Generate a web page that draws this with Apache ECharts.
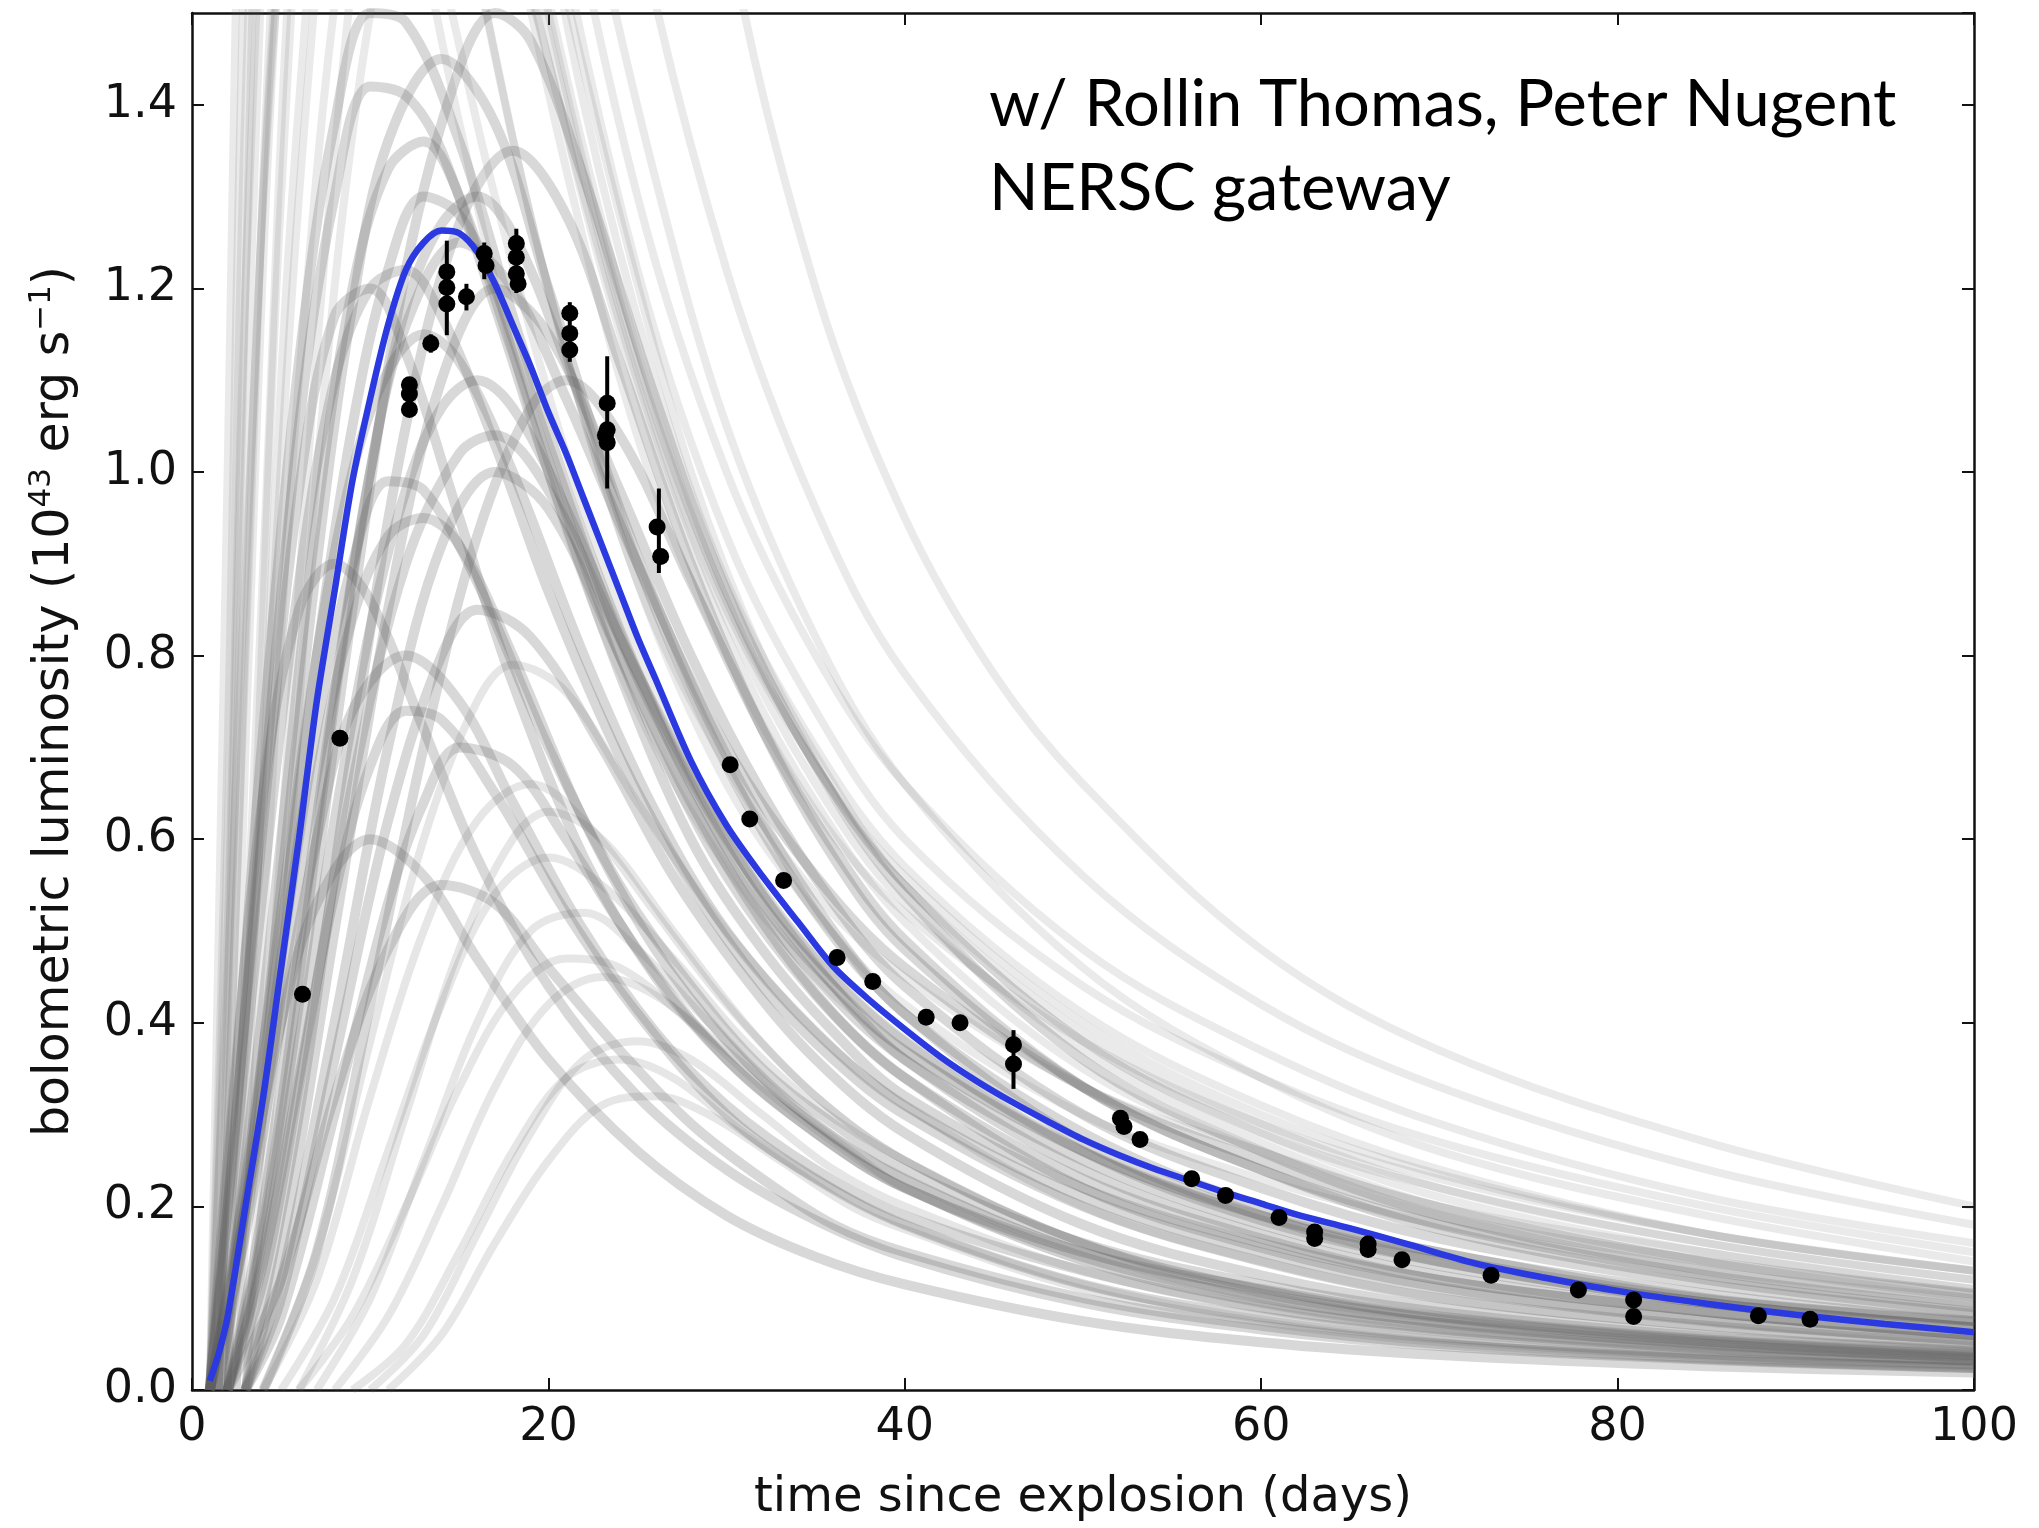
<!DOCTYPE html>
<html><head><meta charset="utf-8">
<script src="https://cdn.jsdelivr.net/npm/echarts@6/dist/echarts.min.js"></script>
<style>html,body{margin:0;padding:0;background:#fff}#c{width:2039px;height:1528px}</style>
</head><body><div id="c"></div>
<script>
// ---- best-fit model curve (blue) ----
const BLUE_X = [1,1.5,2,3,4,5,6,7,8,9,10,11,12,13,14,15,16,17,18,19,20,21,22,23,24,25,26,28,30,32,34,36,38,40,42,44,46,48,50,52,54,56,58,60,62,65,68,72,76,80,85,90,95,100];
const BLUE_Y = [0.01,0.04,0.08,0.2,0.32,0.46,0.6,0.75,0.87,0.99,1.08,1.16,1.22,1.25,1.263,1.26,1.24,1.205,1.16,1.115,1.065,1.02,0.97,0.92,0.87,0.82,0.775,0.685,0.615,0.56,0.51,0.461,0.425,0.393,0.363,0.337,0.314,0.293,0.273,0.256,0.241,0.228,0.215,0.203,0.191,0.176,0.16,0.138,0.122,0.108,0.094,0.082,0.072,0.063];

// ---- observed bolometric luminosities ----
const OBS_X = [6.2,8.3,12.2,12.2,12.2,13.4,14.3,14.3,14.3,15.4,16.4,16.5,18.2,18.2,18.2,18.3,21.2,21.2,21.2,23.3,23.3,23.3,23.2,26.1,26.3,30.2,31.3,33.2,36.2,38.2,41.2,43.1,46.1,46.1,52.1,52.3,53.2,56.1,58.0,61.0,63.0,63.0,66.0,66.0,67.9,72.9,77.8,80.9,80.9,87.9,90.8];
const OBS_Y = [0.431,0.71,1.068,1.085,1.095,1.14,1.183,1.201,1.218,1.191,1.238,1.225,1.249,1.234,1.216,1.205,1.173,1.151,1.133,1.075,1.046,1.032,1.04,0.94,0.908,0.681,0.622,0.555,0.471,0.445,0.406,0.4,0.376,0.355,0.296,0.287,0.273,0.23,0.212,0.188,0.172,0.165,0.159,0.153,0.142,0.125,0.109,0.098,0.08,0.081,0.077];

// ---- visible error bars ----
const ERR_X  = [12.2,13.4,14.3,15.4,16.4,18.2,21.2,23.3,26.2,46.1];
const ERR_LO = [1.06,1.13,1.149,1.176,1.21,1.195,1.12,0.982,0.89,0.328];
const ERR_HI = [1.10,1.15,1.252,1.205,1.25,1.265,1.185,1.126,0.982,0.392];

const GRAY_HIGH = [
 [[1.5,0],[3,1.2],[5,2.6],[8,3.8],[12,4.0],[16,3.6],[20,3.0],[25,2.3],[30,1.6],[35,1.2],[40,0.95],[45,0.78],[50,0.66],[60,0.48],[70,0.37],[85,0.27],[100,0.2]],
 [[1,0],[2,0.7],[3,1.6],[5,2.6],[8,3.0],[12,2.7],[16,2.2],[20,1.75],[25,1.3],[30,1.0],[35,0.8],[40,0.66],[50,0.48],[60,0.37],[70,0.29],[85,0.21],[100,0.16]],
 [[1.5,0],[3,0.8],[5,1.7],[8,2.3],[11,2.4],[14,2.2],[18,1.8],[22,1.4],[26,1.1],[30,0.88],[35,0.7],[40,0.57],[50,0.41],[60,0.31],[70,0.24],[85,0.17],[100,0.13]],
 [[2,0],[4,0.9],[6,1.7],[9,2.2],[12,2.2],[15,1.95],[18,1.6],[22,1.25],[26,0.98],[30,0.8],[35,0.63],[40,0.52],[50,0.38],[60,0.29],[70,0.23],[85,0.17],[100,0.13]],
 [[1,0],[2,0.5],[3,1.2],[5,2.0],[7,2.3],[10,2.2],[13,1.9],[16,1.55],[20,1.2],[25,0.88],[30,0.68],[35,0.54],[40,0.45],[50,0.33],[60,0.26],[70,0.2],[85,0.15],[100,0.11]],
 [[3,0],[5,0.6],[8,1.35],[11,1.8],[14,1.95],[17,1.85],[20,1.6],[24,1.28],[28,1.0],[32,0.8],[36,0.66],[40,0.55],[50,0.38],[60,0.28],[70,0.22],[85,0.16],[100,0.12]],
 [[2,0],[3.5,0.6],[5,1.3],[7,1.8],[10,2.0],[13,1.85],[16,1.55],[20,1.2],[25,0.88],[30,0.66],[35,0.52],[40,0.42],[50,0.3],[60,0.23],[70,0.18],[85,0.13],[100,0.1]],
 [[1.5,0],[2.5,0.7],[4,1.6],[6,2.4],[9,2.8],[12,2.6],[16,2.1],[20,1.65],[25,1.22],[30,0.93],[35,0.74],[40,0.6],[50,0.44],[60,0.34],[70,0.27],[85,0.2],[100,0.15]],
 [[1,0],[2,1.0],[3,2.0],[5,3.2],[8,3.6],[12,3.3],[16,2.7],[20,2.15],[25,1.6],[30,1.22],[35,0.96],[40,0.78],[50,0.56],[60,0.42],[70,0.33],[85,0.24],[100,0.18]],
 [[2.5,0],[4,0.7],[6,1.4],[9,1.95],[12,2.05],[15,1.9],[18,1.65],[22,1.32],[26,1.05],[30,0.85],[35,0.68],[40,0.56],[50,0.4],[60,0.3],[70,0.235],[85,0.17],[100,0.13]],
 [[1,0],[2,0.45],[3.5,1.1],[5,1.6],[7,1.85],[9,1.85],[12,1.65],[15,1.38],[18,1.13],[22,0.88],[26,0.7],[30,0.57],[35,0.45],[40,0.37],[50,0.26],[60,0.19],[70,0.145],[85,0.1],[100,0.075]],
 [[2,0],[3.5,0.5],[6,1.3],[9,1.9],[12,2.2],[15,2.2],[18,2.0],[22,1.65],[26,1.32],[30,1.05],[35,0.82],[40,0.66],[50,0.46],[60,0.34],[70,0.26],[85,0.19],[100,0.14]],
 [[1.5,0],[2.5,0.55],[4,1.3],[6,1.75],[8,1.9],[11,1.8],[14,1.55],[17,1.3],[21,1.02],[25,0.8],[30,0.6],[35,0.47],[40,0.38],[50,0.26],[60,0.19],[70,0.145],[85,0.1],[100,0.075]],
 [[3,0],[5,0.45],[7,1.0],[10,1.5],[13,1.72],[16,1.7],[19,1.52],[23,1.22],[27,0.97],[31,0.78],[35,0.64],[40,0.51],[50,0.35],[60,0.26],[70,0.2],[85,0.14],[100,0.105]],
 [[2,0],[3,0.7],[5,1.6],[8,2.2],[11,2.3],[14,2.1],[18,1.7],[22,1.35],[26,1.07],[30,0.86],[35,0.68],[40,0.55],[50,0.38],[60,0.28],[70,0.21],[85,0.15],[100,0.11]],
 [[1,0],[2,0.6],[3,1.4],[5,2.3],[8,2.6],[12,2.35],[16,1.9],[20,1.5],[25,1.12],[30,0.86],[35,0.68],[40,0.55],[50,0.39],[60,0.29],[70,0.22],[85,0.16],[100,0.12]],
 [[2.5,0],[4,0.5],[6,1.1],[9,1.65],[12,1.85],[15,1.8],[18,1.6],[22,1.3],[26,1.04],[30,0.84],[35,0.66],[40,0.53],[50,0.37],[60,0.27],[70,0.2],[85,0.14],[100,0.1]]
];
const GRAY_MAIN = [
 [[1,0],[3,0.22],[5,0.5],[7,0.8],[9,1.05],[11,1.22],[13,1.3],[15,1.28],[17,1.2],[20,1.03],[24,0.82],[28,0.66],[32,0.53],[36,0.44],[40,0.37],[50,0.26],[60,0.19],[70,0.15],[85,0.1],[100,0.075]],
 [[1,0],[2.5,0.3],[4,0.65],[6,1.05],[8,1.3],[10,1.42],[12,1.41],[14,1.35],[17,1.18],[20,1.0],[24,0.78],[28,0.6],[32,0.48],[36,0.39],[40,0.32],[50,0.22],[60,0.16],[70,0.12],[85,0.085],[100,0.06]],
 [[2,0],[4,0.15],[6,0.38],[8,0.62],[10,0.83],[12,0.98],[14,1.07],[16,1.1],[18,1.07],[21,0.96],[25,0.78],[30,0.58],[35,0.45],[40,0.36],[50,0.25],[60,0.18],[70,0.135],[85,0.095],[100,0.068]],
 [[1.5,0],[3,0.18],[5,0.43],[7,0.67],[9,0.84],[11,0.93],[13,0.95],[15,0.92],[18,0.8],[22,0.62],[26,0.48],[30,0.38],[35,0.29],[40,0.23],[50,0.15],[60,0.105],[70,0.078],[85,0.053],[100,0.038]],
 [[3,0],[6,0.3],[9,0.7],[12,1.05],[15,1.27],[18,1.35],[21,1.28],[24,1.12],[28,0.9],[32,0.72],[36,0.58],[40,0.48],[50,0.33],[60,0.24],[70,0.18],[85,0.125],[100,0.09]],
 [[1,0],[2,0.2],[4,0.62],[6,0.98],[8,1.17],[10,1.2],[12,1.13],[15,0.95],[18,0.77],[22,0.58],[26,0.45],[30,0.36],[35,0.28],[40,0.22],[50,0.15],[60,0.11],[70,0.08],[85,0.055],[100,0.04]],
 [[3,0],[5,0.12],[8,0.4],[11,0.7],[14,0.92],[17,1.0],[20,0.96],[24,0.8],[28,0.64],[32,0.51],[36,0.41],[40,0.34],[50,0.23],[60,0.165],[70,0.12],[85,0.085],[100,0.06]],
 [[1,0],[3,0.17],[5,0.4],[7,0.6],[9,0.74],[12,0.8],[15,0.75],[18,0.64],[22,0.5],[26,0.39],[30,0.31],[35,0.24],[40,0.19],[50,0.13],[60,0.09],[70,0.066],[85,0.045],[100,0.032]],
 [[2,0],[4,0.2],[6,0.48],[8,0.76],[10,1.0],[12,1.16],[15,1.25],[18,1.2],[21,1.08],[25,0.9],[30,0.7],[35,0.56],[40,0.46],[50,0.33],[60,0.25],[70,0.19],[85,0.14],[100,0.105]],
 [[3,0],[5,0.08],[8,0.3],[11,0.53],[13,0.64],[15,0.7],[18,0.68],[21,0.6],[25,0.48],[30,0.36],[35,0.28],[40,0.22],[50,0.145],[60,0.1],[70,0.073],[85,0.05],[100,0.035]],
 [[1.5,0],[3,0.2],[5,0.55],[7,0.9],[9,1.18],[11,1.36],[14,1.45],[17,1.38],[20,1.2],[24,0.96],[28,0.77],[32,0.62],[36,0.5],[40,0.41],[50,0.28],[60,0.2],[70,0.15],[85,0.105],[100,0.075]],
 [[1,0],[3,0.2],[5,0.4],[7,0.53],[10,0.6],[13,0.56],[16,0.47],[20,0.36],[25,0.26],[30,0.19],[35,0.145],[40,0.115],[50,0.075],[60,0.052],[70,0.038],[85,0.026],[100,0.019]],
 [[4,0],[7,0.15],[10,0.42],[13,0.7],[16,0.93],[19,1.07],[21,1.1],[24,1.04],[28,0.88],[32,0.72],[36,0.59],[40,0.49],[50,0.33],[60,0.24],[70,0.175],[85,0.12],[100,0.085]],
 [[1,0],[2,0.25],[4,0.65],[6,0.85],[8,0.9],[10,0.86],[13,0.72],[16,0.58],[20,0.44],[25,0.32],[30,0.24],[35,0.185],[40,0.145],[50,0.095],[60,0.066],[70,0.048],[85,0.033],[100,0.024]],
 [[1,0],[3,0.2],[5,0.47],[7,0.72],[9,0.9],[11,0.99],[13,0.98],[16,0.88],[20,0.7],[24,0.55],[28,0.44],[32,0.35],[36,0.29],[40,0.24],[50,0.16],[60,0.115],[70,0.085],[85,0.058],[100,0.042]],
 [[2,0],[4,0.18],[6,0.45],[8,0.75],[10,1.0],[12,1.18],[14,1.27],[16,1.3],[18,1.26],[21,1.12],[25,0.9],[30,0.68],[35,0.52],[40,0.41],[50,0.27],[60,0.19],[70,0.14],[85,0.095],[100,0.068]],
 [[3,0],[5,0.1],[8,0.36],[11,0.62],[14,0.8],[16,0.85],[19,0.82],[23,0.7],[27,0.56],[31,0.45],[35,0.36],[40,0.28],[50,0.18],[60,0.125],[70,0.09],[85,0.06],[100,0.043]],
 [[1,0],[3,0.23],[5,0.52],[7,0.8],[9,1.0],[11,1.11],[13,1.15],[15,1.12],[18,1.0],[22,0.8],[26,0.63],[30,0.5],[35,0.39],[40,0.31],[50,0.21],[60,0.15],[70,0.11],[85,0.075],[100,0.054]],
 [[2,0],[5,0.12],[8,0.32],[11,0.48],[14,0.55],[17,0.53],[20,0.46],[24,0.37],[28,0.29],[32,0.23],[36,0.18],[40,0.15],[50,0.1],[60,0.07],[70,0.05],[85,0.034],[100,0.024]],
 [[2,0],[4,0.17],[6,0.42],[9,0.85],[12,1.22],[15,1.44],[17,1.5],[19,1.47],[22,1.32],[26,1.08],[30,0.87],[35,0.68],[40,0.54],[50,0.36],[60,0.26],[70,0.19],[85,0.13],[100,0.095]],
 [[1,0],[2,0.18],[4,0.55],[6,0.88],[8,1.1],[10,1.2],[12,1.22],[14,1.17],[17,1.03],[20,0.87],[24,0.69],[28,0.55],[32,0.44],[36,0.36],[40,0.3],[50,0.2],[60,0.14],[70,0.1],[85,0.07],[100,0.05]],
 [[2,0],[4,0.12],[6,0.33],[9,0.66],[12,0.9],[15,1.02],[17,1.04],[20,0.98],[24,0.82],[28,0.67],[32,0.54],[36,0.44],[40,0.36],[50,0.24],[60,0.17],[70,0.125],[85,0.085],[100,0.06]],
 [[1.5,0],[3,0.25],[5,0.6],[7,0.95],[9,1.2],[11,1.33],[13,1.36],[15,1.3],[18,1.13],[22,0.9],[26,0.71],[30,0.56],[35,0.43],[40,0.34],[50,0.22],[60,0.155],[70,0.112],[85,0.076],[100,0.054]],
 [[2,0],[4,0.14],[6,0.34],[8,0.54],[10,0.68],[12,0.74],[14,0.73],[17,0.65],[21,0.52],[25,0.41],[30,0.3],[35,0.23],[40,0.18],[50,0.115],[60,0.08],[70,0.058],[85,0.039],[100,0.028]],
 [[3,0],[5,0.15],[8,0.5],[11,0.85],[14,1.1],[17,1.2],[20,1.15],[24,0.98],[28,0.8],[32,0.65],[36,0.53],[40,0.44],[50,0.3],[60,0.22],[70,0.165],[85,0.115],[100,0.083]],
 [[1,0],[2.5,0.35],[4,0.72],[6,1.12],[8,1.38],[10,1.5],[12,1.49],[15,1.36],[18,1.17],[22,0.93],[26,0.74],[30,0.6],[35,0.47],[40,0.38],[50,0.26],[60,0.185],[70,0.14],[85,0.095],[100,0.068]]
];
const GRAY_LATE = [
 [[6,0],[9,0.08],[12,0.2],[15,0.33],[18,0.43],[21,0.47],[24,0.46],[28,0.4],[32,0.33],[36,0.27],[40,0.22],[50,0.14],[60,0.095],[70,0.068],[85,0.045],[100,0.032]],
 [[8,0],[11,0.08],[14,0.2],[17,0.33],[20,0.42],[23,0.45],[26,0.43],[30,0.37],[35,0.29],[40,0.23],[50,0.15],[60,0.1],[70,0.072],[85,0.048],[100,0.034]],
 [[10,0],[13,0.06],[16,0.17],[19,0.28],[22,0.36],[25,0.38],[28,0.36],[32,0.3],[36,0.24],[40,0.2],[50,0.13],[60,0.088],[70,0.063],[85,0.042],[100,0.03]],
 [[5,0],[8,0.1],[11,0.26],[14,0.42],[17,0.54],[20,0.58],[23,0.55],[27,0.47],[31,0.38],[35,0.31],[40,0.25],[50,0.16],[60,0.11],[70,0.08],[85,0.055],[100,0.04]],
 [[7,0],[10,0.1],[13,0.25],[16,0.4],[19,0.5],[22,0.52],[25,0.48],[29,0.4],[33,0.32],[37,0.26],[40,0.22],[50,0.14],[60,0.094],[70,0.066],[85,0.044],[100,0.031]],
 [[4,0],[7,0.12],[10,0.32],[13,0.5],[16,0.62],[19,0.66],[22,0.62],[26,0.52],[30,0.42],[35,0.32],[40,0.25],[50,0.16],[60,0.11],[70,0.078],[85,0.052],[100,0.037]],
 [[9,0],[12,0.05],[15,0.15],[18,0.26],[21,0.34],[24,0.36],[27,0.34],[31,0.28],[35,0.23],[40,0.18],[50,0.115],[60,0.077],[70,0.055],[85,0.036],[100,0.026]],
 [[4,0],[7,0.15],[10,0.38],[13,0.6],[16,0.75],[18,0.79],[21,0.76],[25,0.64],[30,0.5],[35,0.39],[40,0.31],[50,0.2],[60,0.14],[70,0.1],[85,0.068],[100,0.048]],
 [[6,0],[9,0.12],[12,0.3],[15,0.48],[18,0.6],[20,0.63],[23,0.6],[27,0.5],[31,0.4],[35,0.32],[40,0.25],[50,0.16],[60,0.105],[70,0.074],[85,0.049],[100,0.035]],
 [[11,0],[14,0.06],[17,0.16],[20,0.25],[23,0.31],[26,0.32],[29,0.3],[33,0.25],[37,0.2],[40,0.175],[50,0.11],[60,0.074],[70,0.052],[85,0.034],[100,0.024]]
];

const FONT = 'DejaVu Sans';
const chart = echarts.init(document.getElementById('c'), null, {renderer: 'canvas'});

function grayLine(pts, alpha, width) {
  return {type: 'line', data: pts, smooth: 0.35, symbol: 'none', silent: true,
    animation: false, clip: true, z: 1,
    lineStyle: {color: 'rgba(90,90,90,' + alpha + ')', width: width}};
}
const series = [];
GRAY_HIGH.forEach(c => series.push(grayLine(c, 0.13, 8)));
GRAY_LATE.forEach(c => series.push(grayLine(c, 0.15, 8)));
GRAY_MAIN.forEach(c => series.push(grayLine(c, 0.24, 10)));
series.push({type: 'line', data: BLUE_X.map((x, i) => [x, BLUE_Y[i]]), smooth: 0.3,
  symbol: 'none', silent: true, animation: false, clip: true, z: 3,
  lineStyle: {color: '#2b3ae0', width: 6.5}});
series.push({type: 'custom', silent: true, animation: false, z: 4,
  data: ERR_X.map((x, i) => [x, ERR_LO[i], ERR_HI[i]]),
  renderItem: function (params, api) {
    const a = api.coord([api.value(0), api.value(1)]);
    const b = api.coord([api.value(0), api.value(2)]);
    return {type: 'line', shape: {x1: a[0], y1: a[1], x2: b[0], y2: b[1]},
      style: {stroke: '#000', lineWidth: 4}};
  }});
series.push({type: 'scatter', data: OBS_X.map((x, i) => [x, OBS_Y[i]]),
  symbol: 'circle', symbolSize: 17, silent: true, animation: false, z: 5,
  itemStyle: {color: '#000', opacity: 1}});

const axisLine = {show: true, onZero: false, lineStyle: {color: '#111', width: 2.5}};
const tick = {show: true, inside: true, length: 12, lineStyle: {color: '#111', width: 2}};

chart.setOption({
  backgroundColor: '#fff',
  animation: false,
  grid: {left: 192, top: 13, width: 1782, height: 1386, containLabel: false},
  title: {text: 'w/ Rollin Thomas, Peter Nugent\nNERSC gateway', left: 984, top: 58,
    textStyle: {fontFamily: 'Lato', fontWeight: 'normal', fontSize: 65, lineHeight: 84, color: '#000'}},
  xAxis: [
    {type: 'value', min: 0, max: 100, interval: 20, position: 'bottom',
     axisLine: axisLine, axisTick: tick, splitLine: {show: false},
     axisLabel: {fontFamily: FONT, fontSize: 46, color: '#111', margin: 15},
     name: 'time since explosion (days)', nameLocation: 'middle', nameGap: 85,
     nameTextStyle: {fontFamily: FONT, fontSize: 48, color: '#111'}},
    {type: 'value', min: 0, max: 100, interval: 20, position: 'top',
     axisLine: axisLine, axisTick: tick, axisLabel: {show: false}, splitLine: {show: false}}
  ],
  yAxis: [
    {type: 'value', min: 0, max: 1.5, interval: 0.2, position: 'left',
     axisLine: axisLine, axisTick: tick, splitLine: {show: false},
     axisLabel: {fontFamily: FONT, fontSize: 46, color: '#111', margin: 15, showMaxLabel: false,
       formatter: v => v.toFixed(1)},
     name: 'bolometric luminosity (10{sup|43} erg s{sup|−1})', nameLocation: 'middle', nameGap: 108,
     nameTextStyle: {fontFamily: FONT, fontSize: 49, color: '#111', lineHeight: 58,
       rich: {sup: {fontFamily: FONT, fontSize: 31, lineHeight: 58, verticalAlign: 'top', color: '#111'}}}},
    {type: 'value', min: 0, max: 1.5, interval: 0.2, position: 'right',
     axisLine: axisLine, axisTick: tick, axisLabel: {show: false}, splitLine: {show: false}}
  ],
  series: series
});
</script></body></html>
